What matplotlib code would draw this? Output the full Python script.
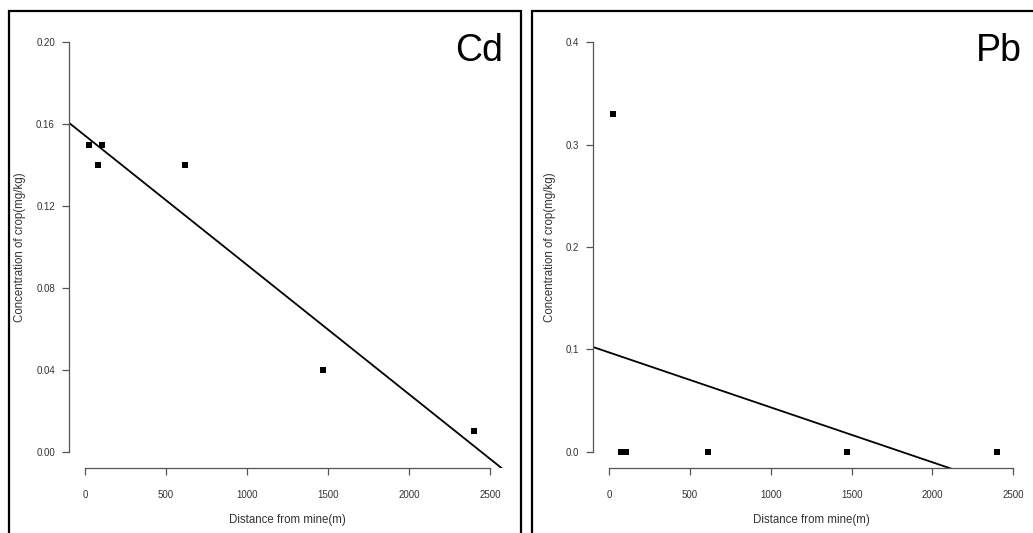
import numpy as np
import matplotlib
matplotlib.use("Agg")
import matplotlib.pyplot as plt
from matplotlib.patches import Rectangle

plt.rcParams["font.family"] = ["Liberation Sans", "DejaVu Sans"]

# distance of each sampling site from the mine (m)
distance = [25, 80, 105, 615, 1470, 2400]
distance_pb = [25, 75, 105, 615, 1470, 2400]
# concentration in crop (mg/kg)
cd_conc = [0.15, 0.14, 0.15, 0.14, 0.04, 0.01]
pb_conc = [0.33, 0.0, 0.0, 0.0, 0.0, 0.0]

x_ticks = [0, 500, 1000, 1500, 2000, 2500]
cd_ticks = [0.00, 0.04, 0.08, 0.12, 0.16, 0.20]
pb_ticks = [0.0, 0.1, 0.2, 0.3, 0.4]

W, H = 1033, 533
fig = plt.figure(figsize=(W / 100, H / 100), dpi=100)
fig.patch.set_facecolor("white")

axis_col = "#555555"
text_col = "#333333"


def px(x0, y0, x1, y1):
    # pixel box (top-left origin) -> figure fraction rect
    return [x0 / W, 1 - y1 / H, (x1 - x0) / W, (y1 - y0) / H]


def panel(rect, xs, ys, yticks, fmt, name, name_x):
    ax = fig.add_axes(px(*rect))
    ax.set_xlim(-100, 2600)
    ylo, yhi = yticks[0], yticks[-1]
    pad = 0.04 * (yhi - ylo)
    ax.set_ylim(ylo - pad, yhi + pad)

    ax.plot(xs, ys, "s", color="black", ms=4.5, mew=0, clip_on=False)
    # least-squares fit line, clipped to the plot region
    slope, icpt = np.polyfit(xs, ys, 1)
    xx = np.array([-200, 3000])
    ax.plot(xx, icpt + slope * xx, color="black", lw=1.3)

    for s in ["top", "right"]:
        ax.spines[s].set_visible(False)
    ax.spines["left"].set_bounds(ylo, yhi)
    ax.spines["bottom"].set_bounds(x_ticks[0], x_ticks[-1])
    for s in ["left", "bottom"]:
        ax.spines[s].set_color(axis_col)
        ax.spines[s].set_linewidth(0.9)

    ax.set_xticks(x_ticks)
    ax.set_xticklabels([str(t) for t in x_ticks])
    ax.set_yticks(yticks)
    ax.set_yticklabels([fmt.format(t) for t in yticks])
    ax.tick_params(direction="out", length=5, width=0.9, color=axis_col,
                   labelsize=7, labelcolor=text_col, pad=5)
    ax.tick_params(axis="x", pad=11)

    ax.set_xlabel("Distance from mine(m)", fontsize=8.3, color=text_col, labelpad=10)
    ax.set_ylabel("Concentration of crop(mg/kg)", fontsize=8.3, color=text_col, labelpad=7)
    ax.patch.set_alpha(0)

    fig.text(name_x / W, 1 - 61 / H, name, fontsize=27, ha="right", va="baseline",
             color="black")
    return ax


panel((68.8, 26, 506.2, 468), distance, cd_conc, cd_ticks, "{:.2f}", "Cd", 503)
panel((592.8, 26, 1029.5, 468), distance_pb, pb_conc, pb_ticks, "{:.1f}", "Pb", 1022)

# frames around each panel
for x0, x1 in [(9, 521), (532, 1040)]:
    fig.patches.append(Rectangle((x0 / W, -0.05), (x1 - x0) / W, 1.05 - 11 / H,
                                 transform=fig.transFigure, fill=False,
                                 edgecolor="black", lw=1.6))

fig.savefig("out.png", dpi=100)
